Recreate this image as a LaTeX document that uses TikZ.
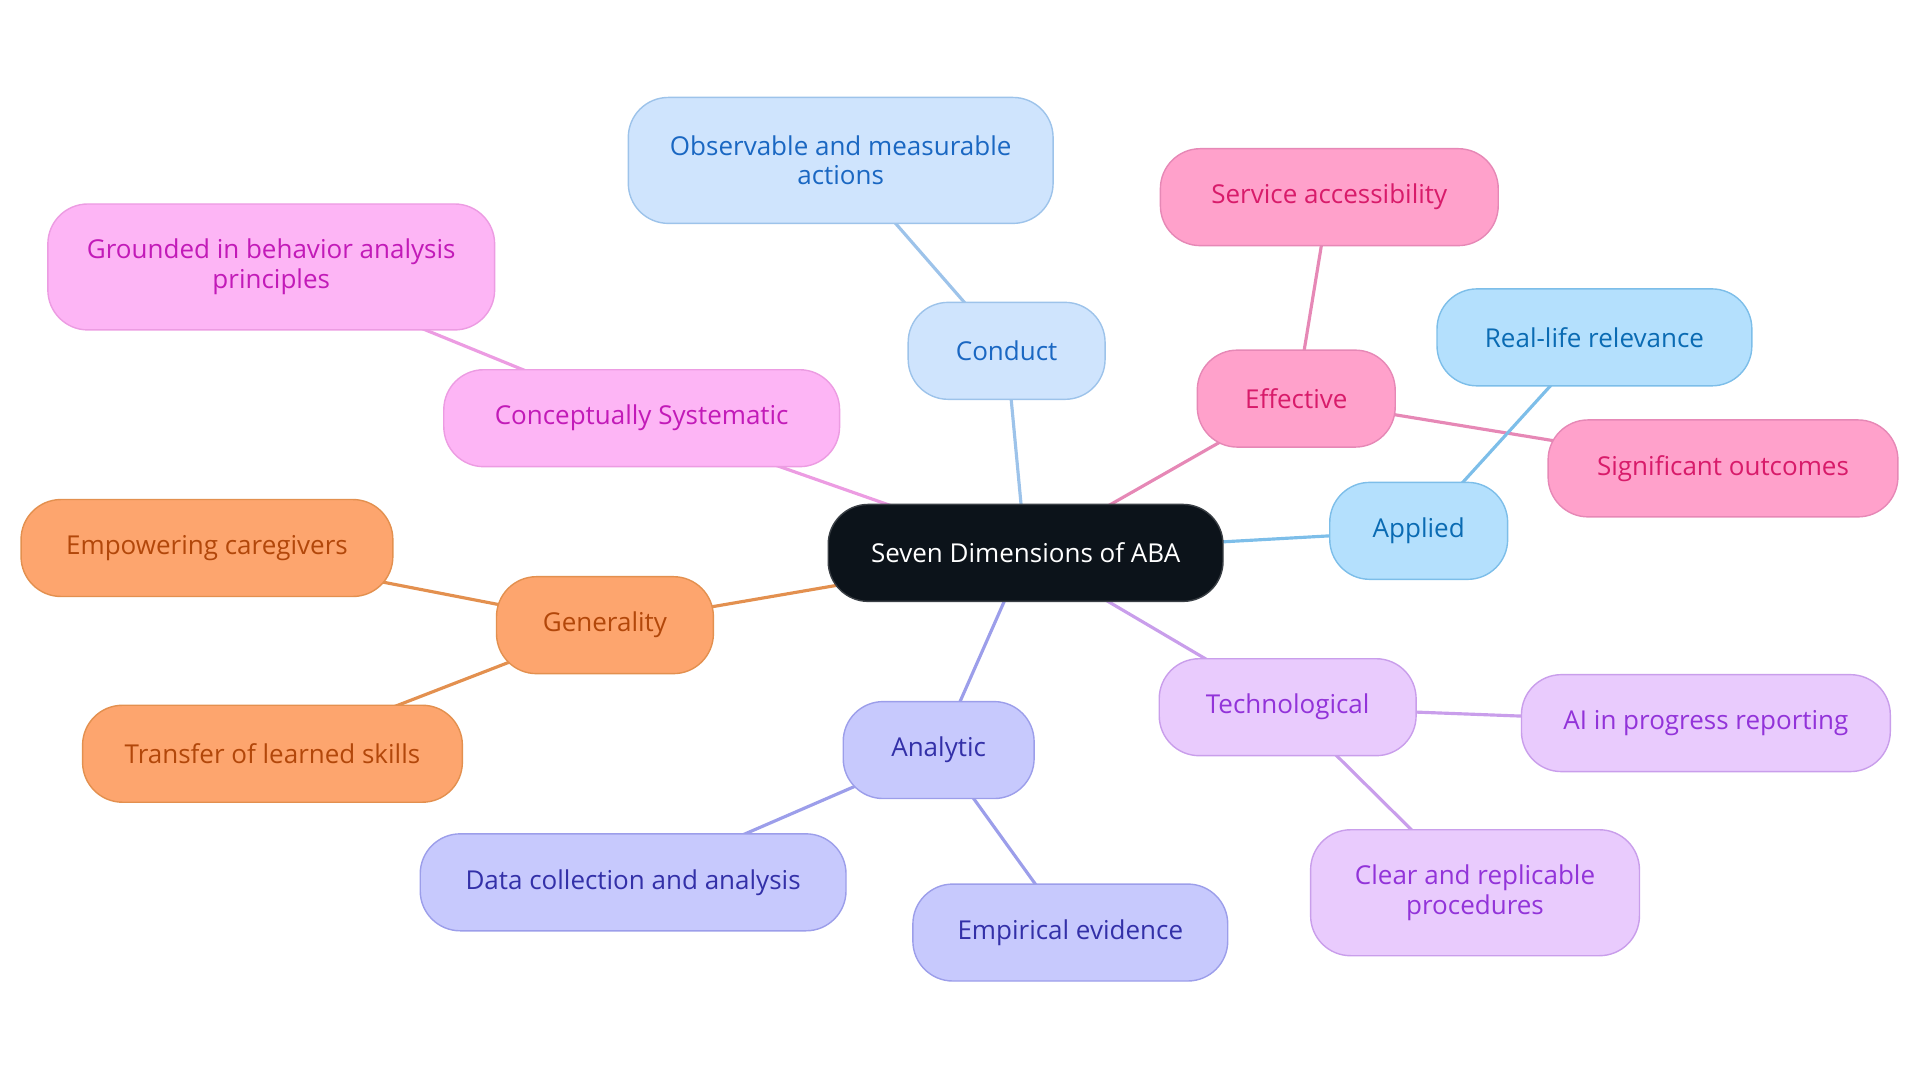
\documentclass[tikz,border=0pt]{standalone}
\usepackage{fontspec}
\setmainfont{Open Sans}
\usetikzlibrary{backgrounds}

\definecolor{rootFill}{HTML}{0C131A}
\definecolor{rootLine}{HTML}{3A3F45}
\definecolor{conductFill}{HTML}{CFE4FD}
\definecolor{conductLine}{HTML}{9DC3EA}
\definecolor{conductText}{HTML}{1A67C2}
\definecolor{effectiveFill}{HTML}{FFA1CB}
\definecolor{effectiveLine}{HTML}{E688B6}
\definecolor{effectiveText}{HTML}{D81B6A}
\definecolor{appliedFill}{HTML}{B4E0FD}
\definecolor{appliedLine}{HTML}{7DBEE9}
\definecolor{appliedText}{HTML}{0A6BB3}
\definecolor{conceptFill}{HTML}{FDB5F5}
\definecolor{conceptLine}{HTML}{EC9CE2}
\definecolor{conceptText}{HTML}{C21AB8}
\definecolor{generalFill}{HTML}{FDA56E}
\definecolor{generalLine}{HTML}{E3904F}
\definecolor{generalText}{HTML}{B2470A}
\definecolor{analyticFill}{HTML}{C7C9FD}
\definecolor{analyticLine}{HTML}{9C9EEA}
\definecolor{analyticText}{HTML}{3330A8}
\definecolor{techFill}{HTML}{E9CBFD}
\definecolor{techLine}{HTML}{C99EEB}
\definecolor{techText}{HTML}{9233D9}

\tikzset{
  pill/.style={rounded corners=0.4cm, minimum height=0.97cm, align=center,
    inner sep=2pt, line width=0.4pt, font=\fontsize{7.4}{8.4}\selectfont},
  dim/.style={pill, fill=#1Fill, draw=#1Line, text=#1Text},
  tall/.style={minimum height=1.26cm},
  link/.style={line width=0.9pt, draw=#1Line},
}

\begin{document}
\begin{tikzpicture}[x=0.012308cm, y=-0.012308cm]
  \useasboundingbox (0, 0) rectangle (1560, 880);

  \begin{scope}[scale=0.995]
  % root
  \node[pill, fill=rootFill, draw=rootLine, text=white, minimum width=3.95cm]
    (root) at (837.5, 451.5) {Seven Dimensions of ABA};

  % first ring
  \node[dim=conduct, minimum width=1.97cm] (conduct) at (822, 286.5) {Conduct};
  \node[dim=effective, minimum width=1.98cm] (effective) at (1058.5, 325.5) {Effective};
  \node[dim=applied, minimum width=1.78cm] (applied) at (1158.5, 433.5) {Applied};
  \node[dim=concept, minimum width=3.96cm] (concept) at (524, 341.5) {Conceptually Systematic};
  \node[dim=general, minimum width=2.17cm] (general) at (494, 510.5) {Generality};
  \node[dim=analytic, minimum width=1.91cm] (analytic) at (766.5, 612.5) {Analytic};
  \node[dim=tech, minimum width=2.57cm] (tech) at (1051.5, 577.5) {Technological};

  % leaves
  \node[dim=conduct, tall, minimum width=4.25cm] (actions) at (686.5, 131)
    {Observable and measurable\\actions};
  \node[dim=effective, minimum width=3.38cm] (access) at (1085.5, 161) {Service accessibility};
  \node[dim=effective, minimum width=3.50cm] (outcomes) at (1407, 382.5) {Significant outcomes};
  \node[dim=applied, minimum width=3.15cm] (relevance) at (1302, 275.5) {Real-life relevance};
  \node[dim=concept, tall, minimum width=4.47cm] (grounded) at (221.5, 218)
    {Grounded in behavior analysis\\principles};
  \node[dim=general, minimum width=3.72cm] (caregivers) at (169, 447.5) {Empowering caregivers};
  \node[dim=general, minimum width=3.80cm] (transfer) at (222.5, 615.5) {Transfer of learned skills};
  \node[dim=analytic, minimum width=4.26cm] (data) at (517, 720.5) {Data collection and analysis};
  \node[dim=analytic, minimum width=3.15cm] (evidence) at (874, 761.5) {Empirical evidence};
  \node[dim=tech, minimum width=3.69cm] (reporting) at (1393, 590.5) {AI in progress reporting};
  \node[dim=tech, tall, minimum width=3.29cm] (procedures) at (1204.5, 729)
    {Clear and replicable\\procedures};
  \end{scope}

  \begin{scope}[on background layer]
    \draw[link=conduct] (root.center) -- (conduct.center) -- (actions.center);
    \draw[link=effective] (root.center) -- (effective.center) -- (access.center);
    \draw[link=effective] (effective.center) -- (outcomes.center);
    \draw[link=applied] (root.center) -- (applied.center) -- (relevance.center);
    \draw[link=concept] (root.center) -- (concept.center) -- (grounded.center);
    \draw[link=general] (root.center) -- (general.center) -- (caregivers.center);
    \draw[link=general] (general.center) -- (transfer.center);
    \draw[link=analytic] (root.center) -- (analytic.center) -- (data.center);
    \draw[link=analytic] (analytic.center) -- (evidence.center);
    \draw[link=tech] (root.center) -- (tech.center) -- (reporting.center);
    \draw[link=tech] (tech.center) -- (procedures.center);
  \end{scope}
\end{tikzpicture}
\end{document}
